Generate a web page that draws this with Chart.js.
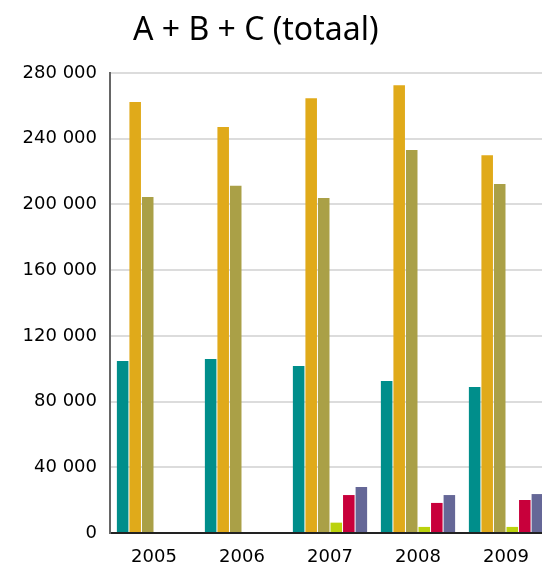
<!DOCTYPE html>
<html>
<head>
<meta charset="utf-8">
<script src="https://cdn.jsdelivr.net/npm/chart.js@4/dist/chart.umd.min.js"></script>
<style>
  html, body { margin: 0; padding: 0; overflow: hidden; background: #fff; }
  #wrap { position: relative; width: 550px; height: 566px; }
  #title {
    position: absolute; left: 133px; top: 6px;
    font-family: "Noto Sans", sans-serif; font-size: 32px; color: #000;
    white-space: nowrap;
  }
</style>
</head>
<body>
<div id="wrap">
  <div id="title">A + B + C (totaal)</div>
  <canvas id="totalChart" width="550" height="566"></canvas>
</div>
<script>
// jaren op de x-as
const years = ['2005', '2006', '2007', '2008', '2009']

// waarden per reeks
const teal = [104700, 105900, 101600, 92500, 88900]
const gold = [262300, 247100, 264700, 272600, 230000]
const olive = [204500, 211300, 203900, 233100, 212400]
const lime = [600, 600, 6300, 3700, 3700]
const crimson = [600, 600, 23100, 18300, 20100]
const purple = [600, 600, 28000, 23100, 23700]

const yTicks = [0, 40000, 80000, 120000, 160000, 200000, 240000, 280000]

const series = [
  {label: 'Reeks 1', data: teal, color: '#008e8b'},
  {label: 'Reeks 2', data: gold, color: '#e0aa1a'},
  {label: 'Reeks 3', data: olive, color: '#aaa047'},
  {label: 'Reeks 4', data: lime, color: '#bbd20c'},
  {label: 'Reeks 5', data: crimson, color: '#c8003b'},
  {label: 'Reeks 6', data: purple, color: '#656797'}
]

const ctx = document.getElementById('totalChart').getContext('2d')

new Chart(ctx, {
  type: 'bar',
  data: {
    labels: years,
    datasets: series.map(s => ({
      label: s.label,
      data: s.data,
      backgroundColor: s.color,
      borderWidth: 0,
      categoryPercentage: 0.855,
      barPercentage: 0.92
    }))
  },
  options: {
    responsive: false,
    animation: false,
    layout: {padding: {top: 73, right: 0, bottom: 0, left: 0}},
    plugins: {
      legend: {display: false},
      tooltip: {enabled: false},
      title: {display: false}
    },
    scales: {
      x: {
        grid: {display: false},
        border: {display: true, color: '#222', width: 2},
        ticks: {
          color: '#000',
          padding: 6,
          font: {family: 'DejaVu Sans', size: 18}
        },
        afterFit: scale => { scale.height = 33 }
      },
      y: {
        min: 0,
        max: 280000,
        afterBuildTicks: scale => {
          scale.ticks = yTicks.map(v => ({value: v}))
        },
        grid: {color: '#dcdcdc', lineWidth: 2, drawTicks: false},
        border: {display: true, color: '#666', width: 2},
        ticks: {
          color: '#000',
          padding: 13,
          font: {family: 'DejaVu Sans', size: 18},
          callback: v => String(v).replace(/\B(?=(\d{3})+(?!\d))/g, ' ')
        },
        afterFit: scale => { scale.width = 110 }
      }
    }
  }
})
</script>
</body>
</html>
